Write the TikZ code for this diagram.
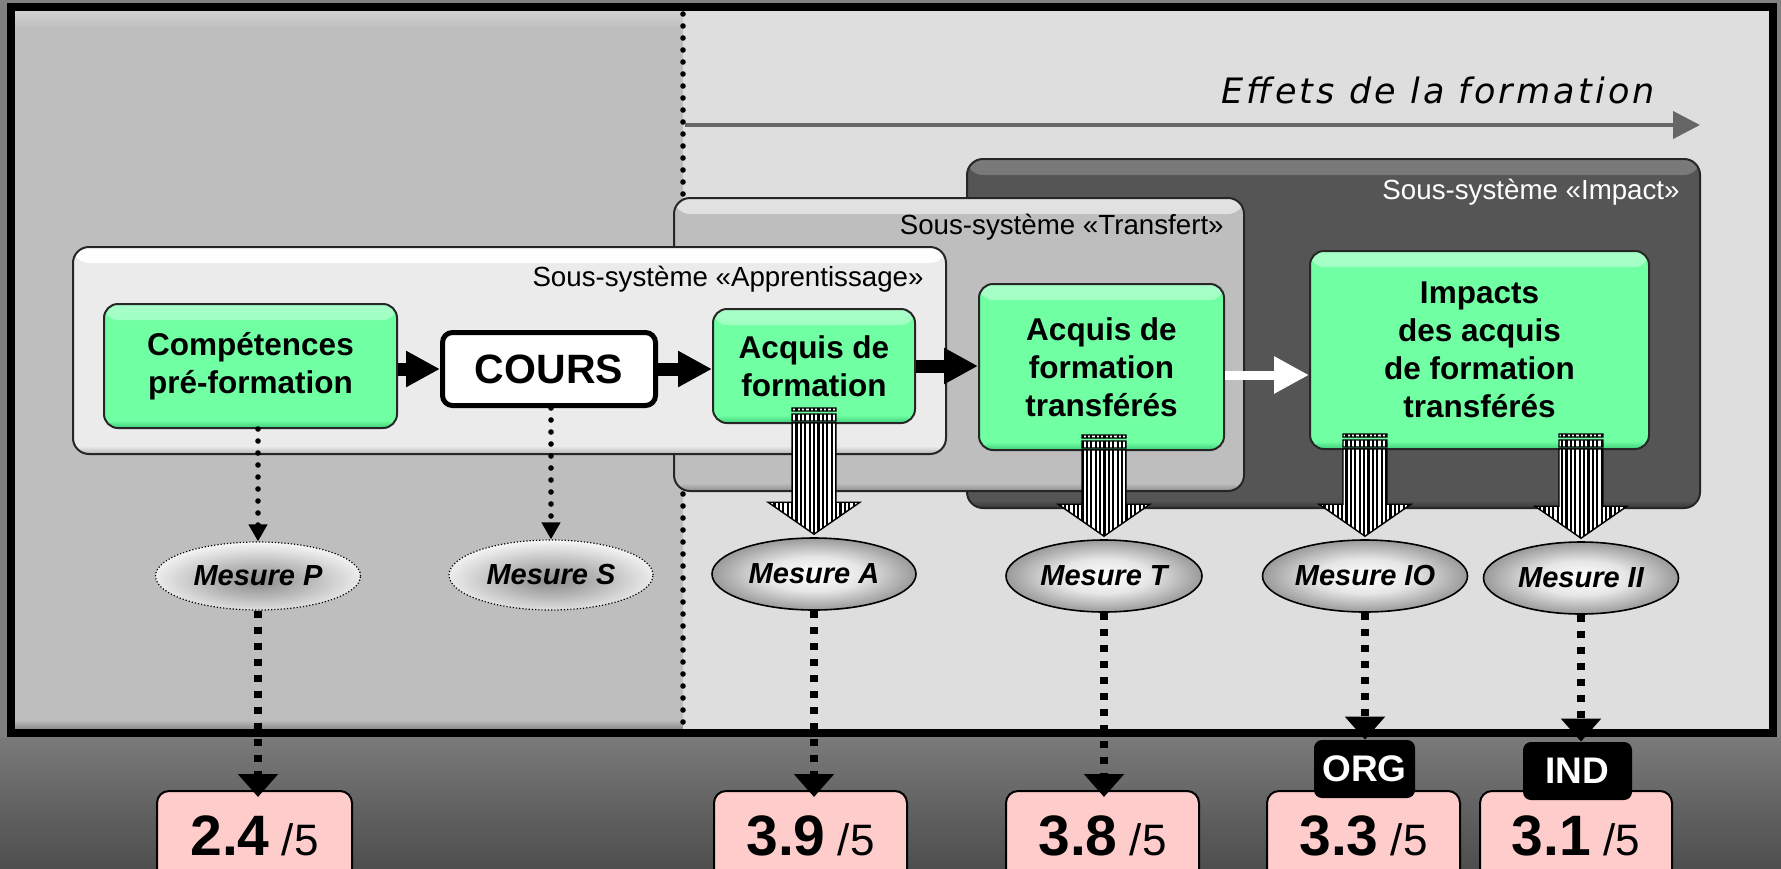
\documentclass[tikz,border=0pt]{standalone}
\usepackage{fontspec}
\setmainfont{Liberation Sans}
\newfontfamily\effetsfont[LetterSpace=9]{DejaVu Sans}
\usetikzlibrary{arrows.meta,patterns.meta,shapes.geometric,calc}

% palette
\definecolor{bgGray}{HTML}{808080}
\definecolor{bgLowTop}{HTML}{7A7A7A}
\definecolor{bgLowBot}{HTML}{4E4E4E}
\definecolor{panelL}{HTML}{BEBEBE}
\definecolor{panelLHi}{HTML}{D2D2D2}
\definecolor{panelLLo}{HTML}{8A8A8A}
\definecolor{panelR}{HTML}{DEDEDE}
\definecolor{boxGreen}{HTML}{70FFA2}
\definecolor{boxGreenHi}{HTML}{A8FFC8}
\definecolor{boxGreenLo}{HTML}{3FCF7A}
\definecolor{boxPink}{HTML}{FFCCCC}
\definecolor{impactFill}{HTML}{555555}
\definecolor{impactHi}{HTML}{7A7A7A}
\definecolor{impactLo}{HTML}{383838}
\definecolor{transFill}{HTML}{BEBEBE}
\definecolor{transHi}{HTML}{E2E2E2}
\definecolor{transLo}{HTML}{8E8E8E}
\definecolor{apprFill}{HTML}{EBEBEB}
\definecolor{apprLo}{HTML}{B5B5B5}
\definecolor{arrowGray}{HTML}{666666}

% shadings of the measure ellipses
\pgfdeclareradialshading{metalball}{\pgfpoint{0bp}{0bp}}{%
  color(0bp)=(white); color(12bp)=(white!90!black); color(26bp)=(white!58!black);
  color(40bp)=(white!34!black); color(50bp)=(white!28!black); color(100bp)=(white!28!black)}
\pgfdeclareradialshading{softspot}{\pgfpoint{0bp}{-4bp}}{%
  color(0bp)=(white!55!black); color(12bp)=(white!72!black); color(30bp)=(white);
  color(100bp)=(white)}

\newcommand{\scorebig}{\fontsize{28.5}{31}\selectfont\bfseries}
\newcommand{\scoresmall}{\fontsize{22}{25}\selectfont}

\tikzset{
  bevel/.style n args={3}{path picture={%
    \shade[top color=#1, bottom color=#2]
      (path picture bounding box.north west) rectangle ([yshift=-8pt]path picture bounding box.north east);
    \shade[top color=#2, bottom color=#3]
      ([yshift=4pt]path picture bounding box.south west) rectangle (path picture bounding box.south east);}},
  container/.style={draw=black!85, line width=1pt, rounded corners=8pt, inner sep=0pt},
  sslabel/.style={inner sep=0pt, anchor=base east, font=\fontsize{13.85}{16}\selectfont},
  greenbox/.style={draw=black!85, line width=1pt, fill=boxGreen, rounded corners=7pt,
    align=center, inner sep=0pt, font=\fontsize{15.75}{19}\selectfont\bfseries,
    bevel={boxGreenHi}{boxGreen}{boxGreenLo}},
  coursbox/.style={draw=black, line width=2.5pt, fill=white, rounded corners=5pt,
    inner sep=0pt, font=\fontsize{20.5}{24}\selectfont\bfseries},
  mesure/.style={ellipse, inner sep=0pt, font=\fontsize{14.5}{17}\selectfont\bfseries\itshape},
  mesuredark/.style={mesure, draw=black, line width=0.8pt, shade, shading=metalball},
  mesurelight/.style={mesure, draw=black, line width=0.6pt, densely dotted, shade, shading=softspot},
  scorebox/.style={draw=black, line width=1pt, fill=boxPink, rounded corners=6pt,
    inner sep=0pt, minimum height=45pt, font=\scoresmall},
  tagbox/.style={fill=black, rounded corners=4pt, inner sep=0pt, text=white,
    font=\fontsize{18.5}{22}\selectfont\bfseries, minimum height=29pt},
  flowarrow/.style={line width=6.5pt, -{Triangle[width=17pt,length=17pt]}},
  whitearrow/.style={draw=white, line width=4.5pt, -{Triangle[width=17.5pt,length=17.5pt]}},
  dotline/.style={line width=2.8pt, line cap=round, dash pattern=on 0pt off 6pt},
  dotarrow/.style={dotline, -{Triangle[width=9pt,length=8.5pt]}},
  sqarrow/.style={line width=4pt, dash pattern=on 3.5pt off 4.5pt,
    -{Triangle[width=19.5pt,length=11.5pt]}},
  stripefill/.style={preaction={fill=white},
    pattern={Lines[angle=90,distance=2.2pt,line width=1.1pt]},
    draw=black, line width=0.7pt},
}

% broad striped arrow from the bottom of box #1 to the top of ellipse #2
\newcommand{\stripedarrow}[2]{%
  \draw[stripefill] let \p1=(#2.north |- #1.south), \p2=(#2.north) in
    (\x1-11pt,\y1+8pt) rectangle (\x1+11pt,\y1+6.5pt)
    (\x1-11pt,\y1+5pt) rectangle (\x1+11pt,\y1+1.5pt)
    (\x1-11pt,\y1+0.5pt) -- (\x1+11pt,\y1+0.5pt) -- (\x1+11pt,\y2+17.5pt)
      -- (\x1+23pt,\y2+17.5pt) -- (\x1,\y2+1.5pt) -- (\x1-23pt,\y2+17.5pt)
      -- (\x1-11pt,\y2+17.5pt) -- cycle;
}

\begin{document}
\begin{tikzpicture}[x=0.5pt,y=-0.5pt]
\useasboundingbox (0,0) rectangle (1781,868);

% backdrop
\fill[bgGray] (0,0) rectangle (1781,868);
\shade[top color=bgLowTop, bottom color=bgLowBot] (0,737) rectangle (1781,868);

% the two panels inside the frame
\fill[panelL] (11,7) rectangle (683,733);
\shade[top color=panelLHi, bottom color=panelL] (11,11) rectangle (683,28);
\shade[top color=panelL, bottom color=panelLLo] (11,720) rectangle (683,729);
\fill[panelR] (683,7) rectangle (1772,733);

% dotted divider
\coordinate (divTop) at (683,14);
\coordinate (divBot) at (683,729);
\draw[dotline] (divTop) -- (divBot);

% time axis
\coordinate (effStart) at (685,125);
\coordinate (effEnd) at (1700,125);
\draw[arrowGray, line width=2pt, -{Triangle[width=13.5pt,length=13.5pt]}] (effStart) -- (effEnd);
\node[inner sep=0pt, anchor=base west, font=\effetsfont\fontsize{17.5}{20}\selectfont\itshape]
  (effLbl) at (1221,103) {Effets de la formation};

% sub-systems
\node[container, fill=impactFill, bevel={impactHi}{impactFill}{impactLo},
  minimum width=366.5pt, minimum height=174.5pt] (impBox) at (1333.5,333.5) {};
\node[sslabel, text=white] (impLbl) at ($(impBox.north east)+(-21,41)$) {Sous-système «Impact»};

\node[container, fill=transFill, bevel={transHi}{transFill}{transLo},
  minimum width=285pt, minimum height=146.5pt] (trBox) at (959,344.5) {};
\node[sslabel] (trLbl) at ($(trBox.north east)+(-21,37)$) {Sous-système «Transfert»};

\node[container, fill=apprFill, bevel={white}{apprFill}{apprLo},
  minimum width=436.5pt, minimum height=103.5pt] (apBox) at (509.5,350.5) {};
\node[sslabel] (apLbl) at ($(apBox.north east)+(-23,40)$) {Sous-système «Apprentissage»};

% process boxes
\node[greenbox, minimum width=146.5pt, minimum height=62pt] (comp) at (250.5,366) {Compétences\\pré-formation};
\node[coursbox, minimum width=106.5pt, minimum height=36.5pt] (cours) at (549,369) {COURS};
\node[greenbox, minimum width=101pt, minimum height=57pt] (acq) at (814,366) {Acquis de\\formation};
\node[greenbox, minimum width=122.5pt, minimum height=83pt] (acqT) at (1101.5,367) {Acquis de\\formation\\transférés};
\node[greenbox, minimum width=169.5pt, minimum height=99pt] (imp) at (1479.5,350) {Impacts\\des acquis\\de formation\\transférés};

% flow between the boxes
\draw[flowarrow] (comp.east |- cours.west) -- (cours.west);
\draw[flowarrow] (cours.east) -- (acq.west |- cours.east);
\draw[flowarrow] (acq.east) -- (acqT.west |- acq.east);
\draw[whitearrow] ([yshift=-4pt]acqT.east) -- ([yshift=-4pt]acqT.east -| imp.west);

% measure ellipses
\node[mesurelight, minimum width=102.5pt, minimum height=34pt] (mP) at (258,576) {Mesure P};
\node[mesurelight, minimum width=102pt, minimum height=35pt] (mS) at (551,575) {Mesure S};
\node[mesuredark, minimum width=102pt, minimum height=36pt] (mA) at (814,574) {Mesure A};
\node[mesuredark, minimum width=98pt, minimum height=36pt] (mT) at (1104,576) {Mesure T};
\node[mesuredark, minimum width=102.5pt, minimum height=36pt] (mIO) at (1365,576) {Mesure IO};
\node[mesuredark, minimum width=97.5pt, minimum height=36pt] (mII) at (1581,578) {Mesure II};

% striped arrows from the results to their measures
\stripedarrow{acq}{mA}
\stripedarrow{acqT}{mT}
\stripedarrow{imp}{mIO}
\stripedarrow{imp}{mII}

% dotted arrows to the first two measures
\draw[dotarrow] (mP.north |- comp.south) -- (mP.north);
\draw[dotarrow] (mS.north |- cours.south) -- (mS.north);

% frame
\draw[line width=4pt] (11,7) rectangle (1772.5,733);

% scores
\node[scorebox, minimum width=97.5pt] (s24) at (254.5,836) {{\scorebig 2.4} /5};
\node[scorebox, minimum width=96.5pt] (s39) at (810.5,836) {{\scorebig 3.9} /5};
\node[scorebox, minimum width=96.5pt] (s38) at (1102.5,836) {{\scorebig 3.8} /5};
\node[scorebox, minimum width=96.5pt] (s33) at (1363.5,836) {{\scorebig 3.3} /5};
\node[scorebox, minimum width=96pt] (s31) at (1576,836) {{\scorebig 3.1} /5};
\node[tagbox, minimum width=50.5pt] (org) at (1364.5,769) {ORG};
\node[tagbox, minimum width=54.5pt] (ind) at (1577.5,771) {IND};

% measures feeding the scores
\draw[sqarrow] (mP.south) -- ($(mP.south |- s24.north)+(0,7)$);
\draw[sqarrow] (mA.south) -- ($(mA.south |- s39.north)+(0,7)$);
\draw[sqarrow] (mT.south) -- ($(mT.south |- s38.north)+(0,7)$);
\draw[sqarrow] (mIO.south) -- (mIO.south |- org.north);
\draw[sqarrow] (mII.south) -- (mII.south |- ind.north);
\end{tikzpicture}
\end{document}
